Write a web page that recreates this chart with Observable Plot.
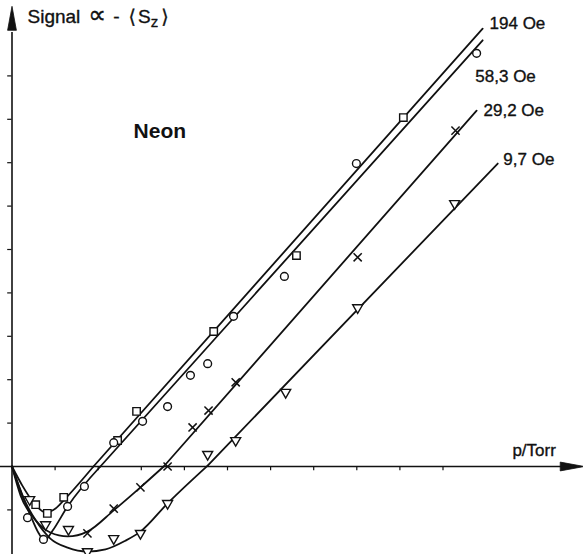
<!DOCTYPE html>
<html>
<head>
<meta charset="utf-8">
<script src="https://cdn.jsdelivr.net/npm/d3@7"></script>
<script src="https://cdn.jsdelivr.net/npm/@observablehq/plot@0.6"></script>
<style>
  html, body { margin: 0; padding: 0; background: #fff; }
  #chart { width: 583px; height: 554px; }
</style>
</head>
<body>
<div id="chart"></div>
<script>
// ---- data (p in tick units, signal in tick units) ----
const seriesLabels = ["194 Oe", "58,3 Oe", "29,2 Oe", "9,7 Oe"];

// measured points
const sq194P = [0.55, 0.82, 1.20, 2.45, 2.89, 4.68, 6.60, 9.08];
const sq194S = [-0.88, -1.08, -0.71, 0.60, 1.27, 3.11, 4.86, 8.04];
const ci58P = [0.36, 0.73, 1.29, 1.68, 2.36, 3.03, 3.61, 4.14, 4.54, 5.14, 6.32, 7.99, 10.78];
const ci58S = [-1.18, -1.68, -0.92, -0.46, 0.55, 1.04, 1.38, 2.10, 2.37, 3.46, 4.38, 6.98, 9.52];
const x29P = [1.75, 2.36, 2.98, 3.61, 4.19, 4.56, 5.19, 8.02, 10.29];
const x29S = [-1.54, -0.97, -0.48, 0.00, 0.90, 1.29, 1.94, 4.82, 7.74];
const tr9P = [0.41, 0.78, 1.31, 1.75, 2.36, 2.98, 3.61, 4.54, 5.19, 6.35, 8.02, 10.27];
const tr9S = [-0.76, -1.34, -1.45, -1.96, -1.66, -1.54, -0.85, 0.28, 0.60, 1.71, 3.66, 6.06];

// fitted curves (vertices; last two vertices = straight part)
const c194P = [0, 0.24, 0.50, 0.78, 1.01, 1.20, 1.89, 10.92];
const c194S = [0, -0.44, -0.83, -1.06, -0.97, -0.78, 0, 10.09];
const c58P = [0, 0.20, 0.43, 0.62, 0.75, 0.94, 1.29, 2.05, 10.92];
const c58S = [0, -0.55, -1.13, -1.54, -1.71, -1.48, -0.92, 0, 9.82];
const c29P = [0, 0.20, 0.55, 0.89, 1.29, 1.75, 2.36, 2.98, 3.52, 10.78];
const c29S = [0, -0.67, -1.24, -1.52, -1.61, -1.50, -1.01, -0.48, 0, 8.20];
const c9P = [0, 0.24, 0.55, 0.89, 1.29, 1.75, 2.17, 2.63, 2.98, 3.61, 4.54, 11.27];
const c9S = [0, -0.67, -1.24, -1.66, -1.87, -1.96, -1.91, -1.71, -1.50, -0.85, 0.02, 6.98];

// axis ticks
const xTicks = [1, 2, 3, 4, 5, 6, 7, 8, 9, 10];
const yTicks = [-1, 1, 2, 3, 4, 5, 6, 7, 8, 9];

const zip = (P, S) => P.map((p, i) => ({p, s: S[i]}));
const curves = [
  zip(c194P, c194S), zip(c58P, c58S), zip(c29P, c29S), zip(c9P, c9S)
];

const ink = "#111";
const lineOpts = {x: "p", y: "s", stroke: ink, strokeWidth: 1.8};
const dotOpts = {x: "p", y: "s", stroke: ink, strokeWidth: 1.4, fill: "white"};

// filled arrow head (tip 24px from the dot's anchor, pointing up before rotation)
const arrowHead = {
  draw(ctx) {
    ctx.moveTo(0, -24);
    ctx.lineTo(4.4, 0);
    ctx.lineTo(-4.4, 0);
    ctx.closePath();
  }
};

const textStyle = {textAnchor: "start", fill: ink, stroke: ink, strokeWidth: 0.35};

const plot = Plot.plot({
  width: 583,
  height: 554,
  margin: 0,
  style: {fontFamily: "'Liberation Sans', 'DejaVu Sans', sans-serif", color: ink, background: "white"},
  x: {domain: [0, 10], range: [11.5, 442.5], axis: null},
  y: {domain: [0, 9], range: [466, 75.4], axis: null},
  marks: [
    // axes
    Plot.ruleY([0], {x1: -0.27, x2: 12.8, stroke: ink, strokeWidth: 1.6}),
    Plot.ruleX([0], {y1: -2.1, y2: 10.0, stroke: ink, strokeWidth: 1.6}),
    Plot.dot([0], {x: 12.72, y: 0, symbol: arrowHead, rotate: 90, fill: ink, stroke: ink, strokeWidth: 0.8}),
    Plot.dot([0], {x: 0, y: 10.05, symbol: arrowHead, rotate: 0, fill: ink, stroke: ink, strokeWidth: 0.8}),
    Plot.ruleX(xTicks, {x: d => d, y1: 0, y2: -0.1, stroke: ink, strokeWidth: 1.2}),
    Plot.ruleY(yTicks, {y: d => d, x1: -0.1, x2: 0, stroke: ink, strokeWidth: 1.2}),
    // curves: rounded bend, then straight part
    ...curves.map(c => Plot.line(c.slice(0, -1), {...lineOpts, curve: "monotone-x"})),
    ...curves.map(c => Plot.line(c.slice(-2), {...lineOpts, curve: "linear"})),
    // points
    Plot.dot(zip(sq194P, sq194S), {...dotOpts, symbol: "square", r: 4.2}),
    Plot.dot(zip(ci58P, ci58S), {...dotOpts, symbol: "circle", r: 3.9}),
    Plot.dot(zip(x29P, x29S), {...dotOpts, symbol: "times", r: 3.8, fill: "none", strokeWidth: 1.5}),
    Plot.dot(zip(tr9P, tr9S), {...dotOpts, symbol: "triangle", r: 3.7, rotate: 180}),
    // labels
    Plot.text([seriesLabels[0]], {...textStyle, x: 11.08, y: 10.21, text: d => d, fontSize: 17}),
    Plot.text([seriesLabels[1]], {...textStyle, x: 10.75, y: 8.99, text: d => d, fontSize: 17}),
    Plot.text([seriesLabels[2]], {...textStyle, x: 10.94, y: 8.20, text: d => d, fontSize: 17}),
    Plot.text([seriesLabels[3]], {...textStyle, x: 11.40, y: 7.07, text: d => d, fontSize: 17}),
    Plot.text(["p/Torr"], {...textStyle, x: 11.61, y: 0.37, text: d => d, fontSize: 17}),
    Plot.text(["Neon"], {...textStyle, x: 2.82, y: 7.72, text: d => d, fontSize: 21, fontWeight: "bold", strokeWidth: 0}),
    Plot.text(["Signal ∝ - ⟨Sz⟩"], {...textStyle, x: 0.36, y: 10.35, text: d => d, fontSize: 19})
  ]
});

// subscript z, larger proportional sign and wider spacing in the y label
plot.querySelectorAll("text").forEach(t => {
  if (t.textContent === "Signal ∝ - ⟨Sz⟩") {
    t.innerHTML = "Signal<tspan dx='8' font-size='25'>∝</tspan><tspan dx='7'>-</tspan><tspan dx='9'>⟨</tspan><tspan dx='2'>S</tspan><tspan dy='4' font-size='15'>z</tspan><tspan dy='-4' dx='3'>⟩</tspan>";
  }
});

document.getElementById("chart").appendChild(plot);
</script>
</body>
</html>
